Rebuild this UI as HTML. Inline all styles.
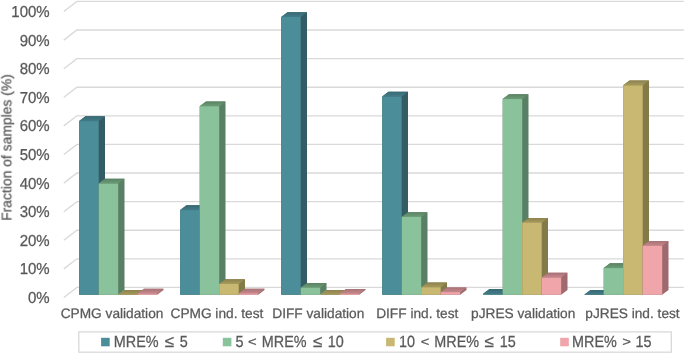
<!DOCTYPE html>
<html><head><meta charset="utf-8"><style>
html,body{margin:0;padding:0;background:#fff;}
body{width:685px;height:354px;overflow:hidden;}
svg{display:block;}
text{will-change:transform;text-rendering:geometricPrecision;}
text{font-family:"Liberation Sans", sans-serif;fill:#595959;stroke:#595959;stroke-width:0.25px;}
</style></head><body>
<svg width="685" height="354" viewBox="0 0 685 354">
<rect width="685" height="354" fill="#fff"/>
<defs>
<linearGradient id="t0" x1="0" y1="0" x2="0" y2="1"><stop offset="0" stop-color="#386973"/><stop offset="1" stop-color="#427c88"/></linearGradient>
<linearGradient id="t1" x1="0" y1="0" x2="0" y2="1"><stop offset="0" stop-color="#5b8364"/><stop offset="1" stop-color="#6b9b76"/></linearGradient>
<linearGradient id="t2" x1="0" y1="0" x2="0" y2="1"><stop offset="0" stop-color="#8d824e"/><stop offset="1" stop-color="#a69a5c"/></linearGradient>
<linearGradient id="t3" x1="0" y1="0" x2="0" y2="1"><stop offset="0" stop-color="#a87276"/><stop offset="1" stop-color="#c6878b"/></linearGradient>
</defs>
<polyline points="63.8,297.5 76.9,287.4 683.8,287.4" fill="none" stroke="#d9d9d9" stroke-width="1.35"/>
<polyline points="63.8,268.9 76.9,258.8 683.8,258.8" fill="none" stroke="#d9d9d9" stroke-width="1.35"/>
<polyline points="63.8,240.3 76.9,230.2 683.8,230.2" fill="none" stroke="#d9d9d9" stroke-width="1.35"/>
<polyline points="63.8,211.7 76.9,201.6 683.8,201.6" fill="none" stroke="#d9d9d9" stroke-width="1.35"/>
<polyline points="63.8,183.1 76.9,173 683.8,173" fill="none" stroke="#d9d9d9" stroke-width="1.35"/>
<polyline points="63.8,154.5 76.9,144.4 683.8,144.4" fill="none" stroke="#d9d9d9" stroke-width="1.35"/>
<polyline points="63.8,125.9 76.9,115.8 683.8,115.8" fill="none" stroke="#d9d9d9" stroke-width="1.35"/>
<polyline points="63.8,97.3 76.9,87.2 683.8,87.2" fill="none" stroke="#d9d9d9" stroke-width="1.35"/>
<polyline points="63.8,68.7 76.9,58.6 683.8,58.6" fill="none" stroke="#d9d9d9" stroke-width="1.35"/>
<polyline points="63.8,40.1 76.9,30 683.8,30" fill="none" stroke="#d9d9d9" stroke-width="1.35"/>
<polyline points="63.8,11.5 76.9,1.4 683.8,1.4" fill="none" stroke="#d9d9d9" stroke-width="1.35"/>
<polygon points="79.2,294.7 79.2,121.1 85.5,116.35 105,116.35 105,289.95 98.7,294.7" fill="#335c64"/>
<polygon points="79.2,121.1 85.5,116.35 105,116.35 98.7,121.1" fill="url(#t0)"/>
<rect x="79.2" y="121.1" width="19.5" height="173.6" fill="#4b8d98"/>
<polygon points="98.7,294.7 98.7,183.59 105,178.84 124.5,178.84 124.5,289.95 118.2,294.7" fill="#598065"/>
<polygon points="98.7,183.59 105,178.84 124.5,178.84 118.2,183.59" fill="url(#t1)"/>
<rect x="98.7" y="183.59" width="19.5" height="111.11" fill="#89c29b"/>
<polygon points="118.2,294.7 118.2,294.7 124.5,289.95 144,289.95 144,289.95 137.7,294.7" fill="#837a4a"/>
<polygon points="118.2,294.7 124.5,289.95 144,289.95 137.7,294.7" fill="url(#t2)"/>
<rect x="118.2" y="294.7" width="19.5" height="0" fill="#c9b872"/>
<polygon points="137.7,294.7 137.7,293.56 144,288.81 163.5,288.81 163.5,289.95 157.2,294.7" fill="#9e6a6d"/>
<polygon points="137.7,293.56 144,288.81 163.5,288.81 157.2,293.56" fill="url(#t3)"/>
<rect x="137.7" y="293.56" width="19.5" height="1.14" fill="#efa5aa"/>
<polygon points="180.2,294.7 180.2,210.04 186.5,205.29 206,205.29 206,289.95 199.7,294.7" fill="#335c64"/>
<polygon points="180.2,210.04 186.5,205.29 206,205.29 199.7,210.04" fill="url(#t0)"/>
<rect x="180.2" y="210.04" width="19.5" height="84.66" fill="#4b8d98"/>
<polygon points="199.7,294.7 199.7,106.23 206,101.48 225.5,101.48 225.5,289.95 219.2,294.7" fill="#598065"/>
<polygon points="199.7,106.23 206,101.48 225.5,101.48 219.2,106.23" fill="url(#t1)"/>
<rect x="199.7" y="106.23" width="19.5" height="188.47" fill="#89c29b"/>
<polygon points="219.2,294.7 219.2,283.97 225.5,279.22 245,279.22 245,289.95 238.7,294.7" fill="#837a4a"/>
<polygon points="219.2,283.97 225.5,279.22 245,279.22 238.7,283.97" fill="url(#t2)"/>
<rect x="219.2" y="283.97" width="19.5" height="10.73" fill="#c9b872"/>
<polygon points="238.7,294.7 238.7,293.41 245,288.66 264.5,288.66 264.5,289.95 258.2,294.7" fill="#9e6a6d"/>
<polygon points="238.7,293.41 245,288.66 264.5,288.66 258.2,293.41" fill="url(#t3)"/>
<rect x="238.7" y="293.41" width="19.5" height="1.29" fill="#efa5aa"/>
<polygon points="281.2,294.7 281.2,16.99 287.5,12.24 307,12.24 307,289.95 300.7,294.7" fill="#335c64"/>
<polygon points="281.2,16.99 287.5,12.24 307,12.24 300.7,16.99" fill="url(#t0)"/>
<rect x="281.2" y="16.99" width="19.5" height="277.71" fill="#4b8d98"/>
<polygon points="300.7,294.7 300.7,287.69 307,282.94 326.5,282.94 326.5,289.95 320.2,294.7" fill="#598065"/>
<polygon points="300.7,287.69 307,282.94 326.5,282.94 320.2,287.69" fill="url(#t1)"/>
<rect x="300.7" y="287.69" width="19.5" height="7.01" fill="#89c29b"/>
<polygon points="320.2,294.7 320.2,294.7 326.5,289.95 346,289.95 346,289.95 339.7,294.7" fill="#837a4a"/>
<polygon points="320.2,294.7 326.5,289.95 346,289.95 339.7,294.7" fill="url(#t2)"/>
<rect x="320.2" y="294.7" width="19.5" height="0" fill="#c9b872"/>
<polygon points="339.7,294.7 339.7,293.7 346,288.95 365.5,288.95 365.5,289.95 359.2,294.7" fill="#9e6a6d"/>
<polygon points="339.7,293.7 346,288.95 365.5,288.95 359.2,293.7" fill="url(#t3)"/>
<rect x="339.7" y="293.7" width="19.5" height="1" fill="#efa5aa"/>
<polygon points="382.2,294.7 382.2,96.5 388.5,91.75 408,91.75 408,289.95 401.7,294.7" fill="#335c64"/>
<polygon points="382.2,96.5 388.5,91.75 408,91.75 401.7,96.5" fill="url(#t0)"/>
<rect x="382.2" y="96.5" width="19.5" height="198.2" fill="#4b8d98"/>
<polygon points="401.7,294.7 401.7,216.91 408,212.16 427.5,212.16 427.5,289.95 421.2,294.7" fill="#598065"/>
<polygon points="401.7,216.91 408,212.16 427.5,212.16 421.2,216.91" fill="url(#t1)"/>
<rect x="401.7" y="216.91" width="19.5" height="77.79" fill="#89c29b"/>
<polygon points="421.2,294.7 421.2,287.26 427.5,282.51 447,282.51 447,289.95 440.7,294.7" fill="#837a4a"/>
<polygon points="421.2,287.26 427.5,282.51 447,282.51 440.7,287.26" fill="url(#t2)"/>
<rect x="421.2" y="287.26" width="19.5" height="7.44" fill="#c9b872"/>
<polygon points="440.7,294.7 440.7,292.13 447,287.38 466.5,287.38 466.5,289.95 460.2,294.7" fill="#9e6a6d"/>
<polygon points="440.7,292.13 447,287.38 466.5,287.38 460.2,292.13" fill="url(#t3)"/>
<rect x="440.7" y="292.13" width="19.5" height="2.57" fill="#efa5aa"/>
<polygon points="483.2,294.7 483.2,293.84 489.5,289.09 509,289.09 509,289.95 502.7,294.7" fill="#335c64"/>
<polygon points="483.2,293.84 489.5,289.09 509,289.09 502.7,293.84" fill="url(#t0)"/>
<rect x="483.2" y="293.84" width="19.5" height="0.86" fill="#4b8d98"/>
<polygon points="502.7,294.7 502.7,99.08 509,94.33 528.5,94.33 528.5,289.95 522.2,294.7" fill="#598065"/>
<polygon points="502.7,99.08 509,94.33 528.5,94.33 522.2,99.08" fill="url(#t1)"/>
<rect x="502.7" y="99.08" width="19.5" height="195.62" fill="#89c29b"/>
<polygon points="522.2,294.7 522.2,222.63 528.5,217.88 548,217.88 548,289.95 541.7,294.7" fill="#837a4a"/>
<polygon points="522.2,222.63 528.5,217.88 548,217.88 541.7,222.63" fill="url(#t2)"/>
<rect x="522.2" y="222.63" width="19.5" height="72.07" fill="#c9b872"/>
<polygon points="541.7,294.7 541.7,277.54 548,272.79 567.5,272.79 567.5,289.95 561.2,294.7" fill="#9e6a6d"/>
<polygon points="541.7,277.54 548,272.79 567.5,272.79 561.2,277.54" fill="url(#t3)"/>
<rect x="541.7" y="277.54" width="19.5" height="17.16" fill="#efa5aa"/>
<polygon points="584.2,294.7 584.2,294.7 590.5,289.95 610,289.95 610,289.95 603.7,294.7" fill="#335c64"/>
<polygon points="584.2,294.7 590.5,289.95 610,289.95 603.7,294.7" fill="url(#t0)"/>
<rect x="584.2" y="294.7" width="19.5" height="0" fill="#4b8d98"/>
<polygon points="603.7,294.7 603.7,268.1 610,263.35 629.5,263.35 629.5,289.95 623.2,294.7" fill="#598065"/>
<polygon points="603.7,268.1 610,263.35 629.5,263.35 623.2,268.1" fill="url(#t1)"/>
<rect x="603.7" y="268.1" width="19.5" height="26.6" fill="#89c29b"/>
<polygon points="623.2,294.7 623.2,85.35 629.5,80.6 649,80.6 649,289.95 642.7,294.7" fill="#837a4a"/>
<polygon points="623.2,85.35 629.5,80.6 649,80.6 642.7,85.35" fill="url(#t2)"/>
<rect x="623.2" y="85.35" width="19.5" height="209.35" fill="#c9b872"/>
<polygon points="642.7,294.7 642.7,245.79 649,241.04 668.5,241.04 668.5,289.95 662.2,294.7" fill="#9e6a6d"/>
<polygon points="642.7,245.79 649,241.04 668.5,241.04 662.2,245.79" fill="url(#t3)"/>
<rect x="642.7" y="245.79" width="19.5" height="48.91" fill="#efa5aa"/>
<g font-size="15.0">
<text transform="translate(49.7,303) scale(1,1.06)" text-anchor="end">0%</text>
<text transform="translate(49.7,274.4) scale(1,1.06)" text-anchor="end">10%</text>
<text transform="translate(49.7,245.8) scale(1,1.06)" text-anchor="end">20%</text>
<text transform="translate(49.7,217.2) scale(1,1.06)" text-anchor="end">30%</text>
<text transform="translate(49.7,188.6) scale(1,1.06)" text-anchor="end">40%</text>
<text transform="translate(49.7,160) scale(1,1.06)" text-anchor="end">50%</text>
<text transform="translate(49.7,131.4) scale(1,1.06)" text-anchor="end">60%</text>
<text transform="translate(49.7,102.8) scale(1,1.06)" text-anchor="end">70%</text>
<text transform="translate(49.7,74.2) scale(1,1.06)" text-anchor="end">80%</text>
<text transform="translate(49.7,45.6) scale(1,1.06)" text-anchor="end">90%</text>
<text transform="translate(49.7,17) scale(1,1.06)" text-anchor="end">100%</text>
</g>
<g font-size="13.7">
<text x="60.7" y="317.9">CPMG validation</text>
<text x="170.5" y="317.9">CPMG ind. test</text>
<text x="272.28" y="317.9">DIFF validation</text>
<text x="376.18" y="317.9">DIFF ind. test</text>
<text x="471.12" y="317.9">pJRES validation</text>
<text x="585.32" y="317.9">pJRES ind. test</text>
</g>
<text transform="translate(11.3,220.8) rotate(-90)" font-size="13.9">Fraction of samples (%)</text>
<g font-size="15.5">
<rect x="78.8" y="331.9" width="592.5" height="20.3" fill="#fff" stroke="#d9d9d9" stroke-width="1.3"/>
<rect x="101.1" y="337.8" width="8.6" height="8.5" fill="#4b8d98"/>
<rect x="222.8" y="337.8" width="8.6" height="8.5" fill="#89c29b"/>
<rect x="386.1" y="337.8" width="8.6" height="8.5" fill="#c9b872"/>
<rect x="560.2" y="337.8" width="8.6" height="8.5" fill="#efa5aa"/>
<text transform="translate(113.72,347.0) scale(0.93,1.04)">MRE%</text>
<text transform="translate(164.78,347.4) scale(1.1,1.07)">≤</text>
<text transform="translate(179.72,347.0) scale(0.93,1.04)">5</text>
<text transform="translate(235.42,347.0) scale(0.93,1.04)">5</text>
<text transform="translate(248.07,346.3) scale(0.96,0.835)">&lt;</text>
<text transform="translate(261.72,347.0) scale(0.93,1.04)">MRE%</text>
<text transform="translate(312.88,347.4) scale(1.1,1.07)">≤</text>
<text transform="translate(327.7,347.0) scale(0.93,1.04)">10</text>
<text transform="translate(398.9,347.0) scale(0.93,1.04)">10</text>
<text transform="translate(420.77,346.3) scale(0.96,0.835)">&lt;</text>
<text transform="translate(434.32,347.0) scale(0.93,1.04)">MRE%</text>
<text transform="translate(484.38,347.4) scale(1.1,1.07)">≤</text>
<text transform="translate(499.7,347.0) scale(0.93,1.04)">15</text>
<text transform="translate(572.02,347.0) scale(0.93,1.04)">MRE%</text>
<text transform="translate(622.17,346.3) scale(0.96,0.835)">&gt;</text>
<text transform="translate(635.6,347.0) scale(0.93,1.04)">15</text>
</g>
</svg>
</body></html>
